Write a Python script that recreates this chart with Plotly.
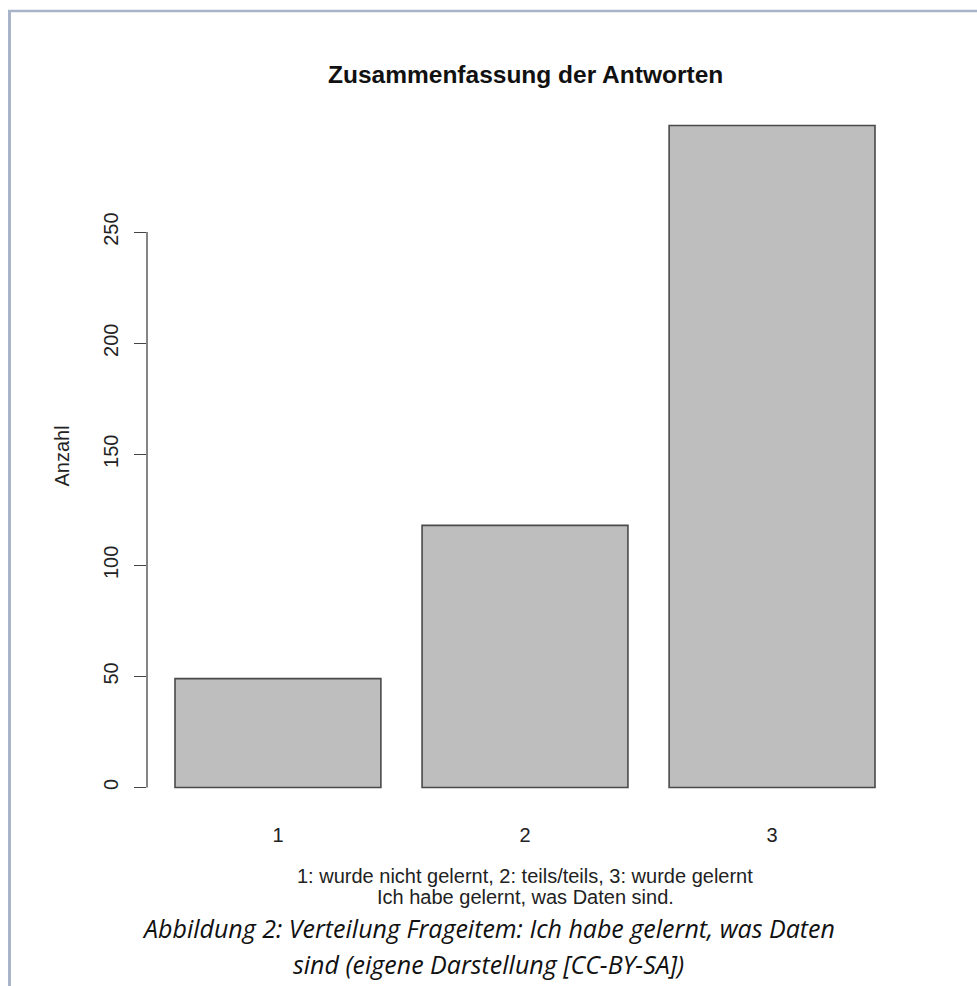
import plotly.graph_objects as go

# ---- data ----
categories = ["1", "2", "3"]
counts = [49, 118, 298]
y_ticks = [0, 50, 100, 150, 200, 250]
title_text = "Zusammenfassung der Antworten"
y_title = "Anzahl"
xlab_text = "1: wurde nicht gelernt, 2: teils/teils, 3: wurde gelernt"
sub_text = "Ich habe gelernt, was Daten sind."
caption_lines = ["Abbildung 2: Verteilung Frageitem: Ich habe gelernt, was Daten",
                 "sind (eigene Darstellung [CC-BY-SA])"]

# ---- layout geometry (pixels) ----
W, H = 977, 986
L, R, T, B = 147, 74, 99, 171.5
PW, PH = W - L - R, H - T - B

def px_x(x):
    return (x - L) / PW

def px_y(y):
    return (H - B - y) / PH

ymax = max(counts)
yrange = [-0.04 * ymax, 1.04 * ymax]

fig = go.Figure()
fig.add_trace(go.Bar(
    x=categories, y=counts,
    marker=dict(color="#bebebe", line=dict(color="#4a4a4a", width=1.6)),
    width=1 / 1.2,
    hoverinfo="x+y",
))

axis_font = dict(family="Liberation Sans, Arial, sans-serif", size=20, color="#222")

fig.update_layout(
    width=W, height=H,
    margin=dict(l=L, r=R, t=T, b=B, autoexpand=False),
    paper_bgcolor="white", plot_bgcolor="white",
    showlegend=False,
    xaxis=dict(
        type="category", range=[-0.53, 2.53],
        showline=False, showgrid=False, zeroline=False,
        ticks="outside", ticklen=3, tickcolor="rgba(0,0,0,0)",
        tickfont=axis_font, fixedrange=True,
    ),
    yaxis=dict(
        range=yrange, tickvals=y_ticks, ticktext=[str(v) for v in y_ticks],
        tickangle=-90, ticks="outside", ticklen=12, tickcolor="#444", tickwidth=1.3,
        ticklabelstandoff=8,
        showline=False, showgrid=False, zeroline=False,
        tickfont=axis_font, fixedrange=True,
    ),
)

# y axis line only spanning the tick range (R style)
fig.add_shape(type="line", xref="paper", yref="y", x0=0, x1=0,
              y0=y_ticks[0], y1=y_ticks[-1], line=dict(color="#444", width=1.3))

# frame of the figure
frame_col = "#a9b4c9"
fig.add_shape(type="line", xref="paper", yref="paper",
              x0=px_x(8), x1=px_x(W + 5), y0=px_y(11), y1=px_y(11),
              line=dict(color=frame_col, width=2.5))
fig.add_shape(type="line", xref="paper", yref="paper",
              x0=px_x(9.5), x1=px_x(9.5), y0=px_y(10), y1=px_y(H + 5),
              line=dict(color=frame_col, width=3))

# title
fig.add_annotation(text="<b>" + title_text + "</b>", xref="paper", yref="paper",
                   x=0.5, y=px_y(74), showarrow=False, xanchor="center", yanchor="middle",
                   font=dict(family="Liberation Sans, Arial, sans-serif", size=24.5, color="#111"))
# y title
fig.add_annotation(text=y_title, xref="paper", yref="paper", textangle=-90,
                   x=px_x(61), y=0.5, showarrow=False, xanchor="center", yanchor="middle",
                   font=axis_font)
# x label and sub
fig.add_annotation(text=xlab_text, xref="paper", yref="paper",
                   x=0.5, y=px_y(877), showarrow=False, xanchor="center", yanchor="middle",
                   font=axis_font)
fig.add_annotation(text=sub_text, xref="paper", yref="paper",
                   x=0.5, y=px_y(898), showarrow=False, xanchor="center", yanchor="middle",
                   font=axis_font)
# caption (italic)
cap_font = dict(family="Open Sans, sans-serif", size=25, color="#111")
for line, ypx in zip(caption_lines, [929, 965]):
    fig.add_annotation(text="<i>" + line + "</i>", xref="paper", yref="paper",
                       x=px_x(488), y=px_y(ypx), showarrow=False,
                       xanchor="center", yanchor="middle", font=cap_font)

fig.write_html("out.html",
               config={"displayModeBar": False},
               post_script="document.body.style.margin='0';document.body.style.overflow='hidden';")
